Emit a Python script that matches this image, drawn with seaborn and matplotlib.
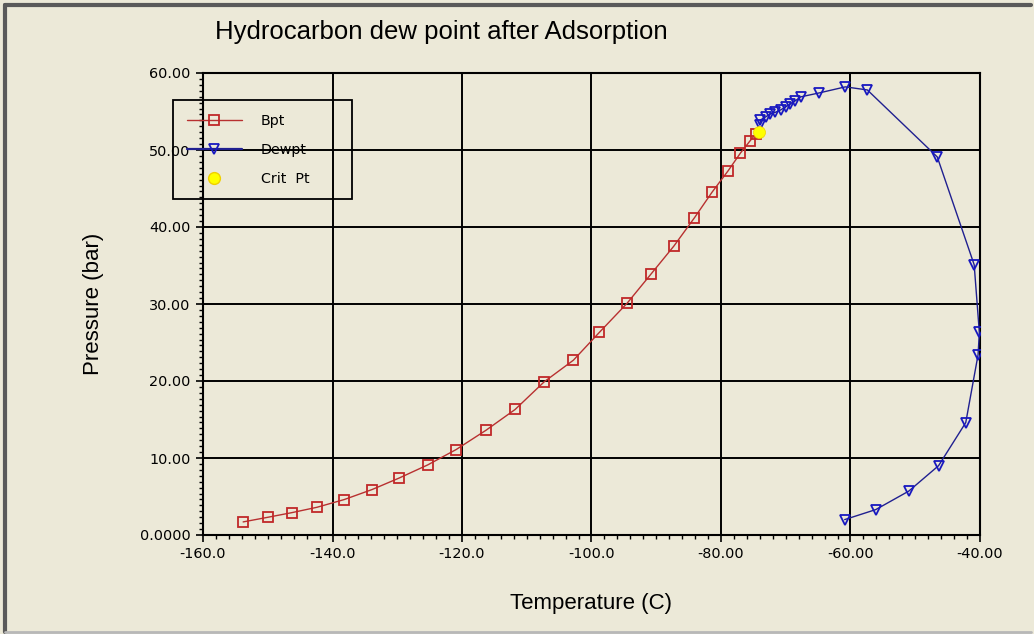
import matplotlib
matplotlib.use("Agg")
import matplotlib.pyplot as plt
import seaborn as sns
import pandas as pd
from matplotlib.ticker import MultipleLocator, AutoMinorLocator
from matplotlib.lines import Line2D

# Bubble point curve
bpt_temp = [-153.8, -150.0, -146.3, -142.4, -138.2, -133.9, -129.7, -125.3, -120.9, -116.3,
            -111.8, -107.3, -102.8, -98.8, -94.5, -90.8, -87.3, -84.1, -81.4, -78.9,
            -77.0, -75.5, -74.6]
bpt_pres = [1.7, 2.3, 2.9, 3.6, 4.6, 5.9, 7.4, 9.1, 11.1, 13.6,
            16.3, 19.9, 22.7, 26.3, 30.1, 33.9, 37.5, 41.2, 44.5, 47.3,
            49.6, 51.2, 52.1]

# Dew point curve
dew_temp = [-74.0, -73.9, -73.1, -72.4, -71.6, -70.8, -70.0, -69.3, -68.5, -67.7,
            -64.9, -60.8, -57.4, -46.6, -40.9, -40.1, -40.3, -42.2, -46.4, -51.0,
            -56.1, -60.9]
dew_pres = [53.3, 53.9, 54.3, 54.7, 54.9, 55.2, 55.6, 56.0, 56.4, 56.9,
            57.4, 58.2, 57.8, 49.1, 35.1, 26.3, 23.4, 14.6, 9.0, 5.7,
            3.3, 2.0]

# Critical point
crit_temp = [-74.2]
crit_pres = [52.4]

x_ticks = [-160, -140, -120, -100, -80, -60, -40]
x_labels = ["-160.0", "-140.0", "-120.0", "-100.0", "-80.00", "-60.00", "-40.00"]
y_ticks = [0, 10, 20, 30, 40, 50, 60]
y_labels = ["0.0000", "10.00", "20.00", "30.00", "40.00", "50.00", "60.00"]

bg = "#ECE9D8"
sns.set_style("ticks")
plt.rcParams["font.family"] = ["Liberation Sans", "DejaVu Sans"]
plt.rcParams["text.color"] = "black"

fig = plt.figure(figsize=(10.34, 6.34), dpi=100, facecolor=bg)
ax = fig.add_axes([203 / 1034, 1 - 535 / 634, (980 - 203) / 1034, (535 - 73) / 634])
ax.set_facecolor(bg)

bpt = pd.DataFrame({"T": bpt_temp, "P": bpt_pres})
dew = pd.DataFrame({"T": dew_temp, "P": dew_pres})
crit = pd.DataFrame({"T": crit_temp, "P": crit_pres})

bpt_style = dict(color="#B83030", lw=1, marker="s", markersize=7.5, markerfacecolor="none",
                 markeredgecolor="#C02828", markeredgewidth=1.3)
dew_style = dict(color="#202090", lw=1, marker="v", markersize=7.5, markerfacecolor="none",
                 markeredgecolor="#1818C0", markeredgewidth=1.3)

sns.lineplot(data=bpt, x="T", y="P", sort=False, ax=ax, zorder=4, **bpt_style)
sns.lineplot(data=dew, x="T", y="P", sort=False, ax=ax, zorder=4, **dew_style)
sns.scatterplot(data=crit, x="T", y="P", ax=ax, color="#FFFF00", s=75,
                edgecolor="#F0D000", linewidth=0.5, zorder=5)

ax.set_xlim(-160, -40)
ax.set_ylim(0, 60)
ax.set_xticks(x_ticks)
ax.set_xticklabels(x_labels)
ax.set_yticks(y_ticks)
ax.set_yticklabels(y_labels)
ax.xaxis.set_minor_locator(MultipleLocator(2))
ax.yaxis.set_minor_locator(AutoMinorLocator(13))
ax.tick_params(which="major", direction="out", length=5, width=1.2, colors="black",
               labelsize=10.4, pad=4)
ax.tick_params(which="minor", direction="out", length=3, width=1, colors="black")
for lab in ax.get_xticklabels() + ax.get_yticklabels():
    lab.set_family(["DejaVu Sans"])
ax.grid(True, which="major", color="black", lw=1.4)
ax.set_axisbelow(True)
for s in ax.spines.values():
    s.set_visible(True)
    s.set_color("black")
    s.set_linewidth(1.5)

ax.set_xlabel("Temperature (C)", fontsize=16, color="black")
ax.set_ylabel("Pressure (bar)", fontsize=16, color="black")
ax.xaxis.set_label_coords(0.5, (535 - 603) / 462)
ax.xaxis.label.set_va("center")
ax.yaxis.set_label_coords((93 - 203) / 777, 0.5)
ax.yaxis.label.set_va("center")

fig.text(215 / 1034, 1 - 32 / 634, "Hydrocarbon dew point after Adsorption",
         fontsize=18.5, ha="left", va="center", color="black")

handles = [
    Line2D([], [], **bpt_style),
    Line2D([], [], **dict(dew_style, lw=1.6)),
    Line2D([], [], color="none", marker="o", markersize=8.5,
           markerfacecolor="#FFFF00", markeredgecolor="#F0D000"),
]
leg = fig.legend(handles, ["Bpt", "Dewpt", "Crit  Pt"], loc="upper left",
                 bbox_to_anchor=(173 / 1034, 1 - 100 / 634 - 0.01, 179 / 1034, 0.01),
                 mode="expand", borderaxespad=0, labelspacing=1.05,
                 prop={"family": "DejaVu Sans", "size": 10.3},
                 handlelength=3.9, handletextpad=1.3, borderpad=0.95,
                 fancybox=False)
frame = leg.get_frame()
frame.set_facecolor("none")
frame.set_edgecolor("black")
frame.set_linewidth(1.3)
frame.set_alpha(1)

# window border
fig.add_artist(Line2D([5 / 1034, 5 / 1034], [2 / 634, 1 - 5 / 634], color="#5a5a5a", lw=3))
fig.add_artist(Line2D([5 / 1034, 1 - 3 / 1034], [1 - 5 / 634, 1 - 5 / 634], color="#5a5a5a", lw=3))
fig.add_artist(Line2D([5 / 1034, 1 - 3 / 1034], [2 / 634, 2 / 634], color="#b8b8b8", lw=2))

fig.savefig("out.png", dpi=100, facecolor=bg)
